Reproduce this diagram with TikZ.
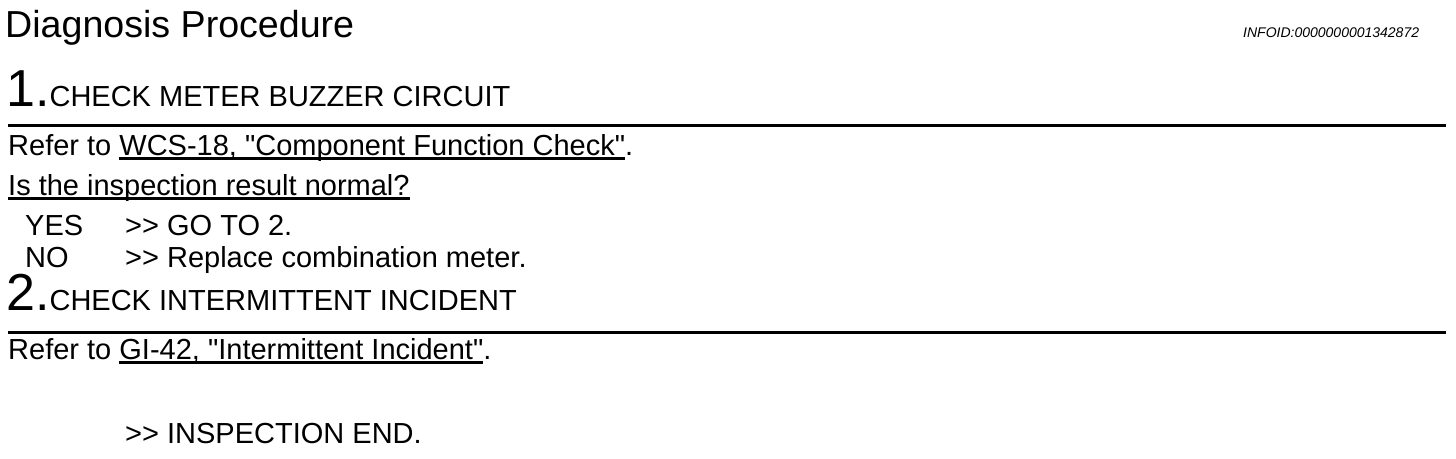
\documentclass[tikz,border=0pt]{standalone}
\usepackage{fontspec}
\setmainfont{Liberation Sans}[Ligatures=TeXOff]
\newcommand\ulink[1]{\setbox0\hbox{#1}\rlap{\rule[-4.5pt]{\wd0}{2.4pt}}\box0}
\newcommand\bignumfont{\fontsize{52}{52}\selectfont}
\tikzset{
  txt/.style={anchor=base west, inner sep=0pt, font=\fontsize{29}{29}\selectfont},
  rulebar/.style={line width=3pt}
}
\begin{document}
\begin{tikzpicture}[x=1pt,y=-1pt]
  \useasboundingbox (0,0) rectangle (1456,458);
  \node[txt, font=\fontsize{37.6}{37.6}\selectfont] (title) at (5,37) {Diagnosis Procedure};
  \node[txt, font=\fontsize{14}{14}\selectfont\itshape] (info) at (1243,37) {INFOID:0000000001342872};
  \node[txt] (step1) at (6,106) {{\bignumfont 1.}CHECK METER BUZZER CIRCUIT};
  \draw[rulebar] (8,125) -- (1446,125);
  \node[txt] (ref1) at (8,155) {Refer to \ulink{WCS-18, "Component Function Check"}.};
  \node[txt] (ask1) at (8,195) {\ulink{Is the inspection result normal?}};
  \node[txt] (yes) at (25,235) {YES};
  \node[txt] (yesact) at (125,235) {>> GO TO 2.};
  \node[txt] (no) at (25,267) {NO};
  \node[txt] (noact) at (125,267) {>> Replace combination meter.};
  \node[txt] (step2) at (6,310) {{\bignumfont 2.}CHECK INTERMITTENT INCIDENT};
  \draw[rulebar] (8,332) -- (1446,332);
  \node[txt] (ref2) at (8,359) {Refer to \ulink{GI-42, "Intermittent Incident"}.};
  \node[txt] (endact) at (125,443) {>> INSPECTION END.};
\end{tikzpicture}
\end{document}
